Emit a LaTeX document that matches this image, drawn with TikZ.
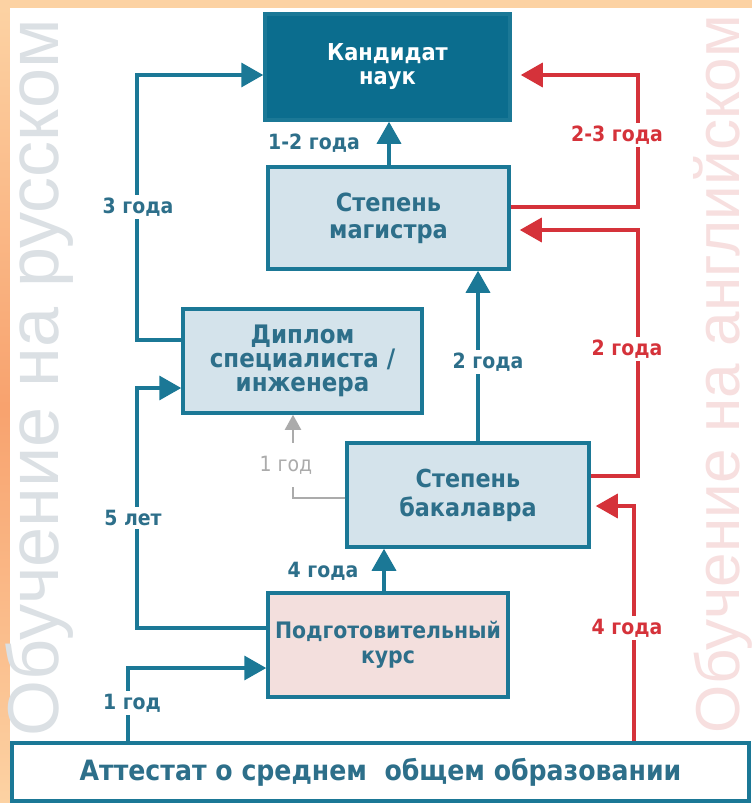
\documentclass[tikz,border=0pt]{standalone}
\usepackage{fontspec}
\setmainfont{DejaVu Sans}[FakeStretch=0.9]
\newfontfamily\wmfont{Liberation Sans}
\usetikzlibrary{arrows.meta}
\definecolor{tealline}{HTML}{1B7896}
\definecolor{kandfill}{HTML}{0B6D8E}
\definecolor{boxfill}{HTML}{D4E3EB}
\definecolor{podgfill}{HTML}{F3DFDD}
\definecolor{redline}{HTML}{D5323A}
\definecolor{boxtext}{HTML}{2D6F8A}
\definecolor{graytext}{HTML}{ABABAB}
\definecolor{peach}{HTML}{FCD2A3}
\definecolor{orng}{HTML}{F8A26E}
\definecolor{wmgray}{HTML}{DBE0E4}
\definecolor{wmpink}{HTML}{F7DFDF}
\begin{document}
\begin{tikzpicture}[x=1pt, y=-1pt, >={Triangle[length=22pt,width=24pt]},
  box/.style={draw=tealline, line width=3.5pt, fill=boxfill, text=boxtext, align=center, inner sep=0pt, font=\bfseries\fontsize{25}{27}\selectfont},
  lab/.style={fill=white, inner sep=3pt, text=boxtext, font=\bfseries\fontsize{21}{22}\selectfont},
  bl/.style={draw=tealline, line width=3.5pt, ->},
  rd/.style={draw=redline, line width=3.5pt, ->, shorten >=9pt},
  wm/.style={rotate=90, anchor=base, inner sep=0pt}]
\useasboundingbox (0,0) rectangle (752,803);
\fill[peach] (0,0) rectangle (752,803);
\shade[top color=peach, bottom color=peach, middle color=orng] (0,8) rectangle (10,803);
\fill[white] (10,8) rectangle (752,803);
\node[wm, text=wmgray, font=\wmfont\fontsize{72}{72}\selectfont] (wmru) at (58,378) {Обучение на русском};
\node[wm, text=wmpink, font=\wmfont\fontsize{62}{62}\selectfont] (wmen) at (739,374) {Обучение на английском};
\node[box, fill=kandfill, text=white, minimum width=245pt, minimum height=106pt, font=\bfseries\fontsize{23.3}{24}\selectfont] (kand) at (387.5,67) {Кандидат\\наук};
\node[box, minimum width=241pt, minimum height=102pt] (mag) at (388.5,218) {Степень\\магистра};
\node[box, minimum width=239pt, minimum height=104pt, font=\bfseries\fontsize{25.5}{24}\selectfont] (dipl) at (302.5,361) {Диплом\\специалиста /\\инженера};
\node[box, minimum width=242pt, minimum height=104pt, font=\bfseries\fontsize{24.8}{29}\selectfont] (bak) at (468,495) {Степень\\бакалавра};
\node[box, fill=podgfill, minimum width=240pt, minimum height=104pt, font=\bfseries\fontsize{22.7}{25}\selectfont] (podg) at (388,645) {Подготовительный\\курс};
\node[box, fill=white, minimum width=737pt, minimum height=58pt, font=\bfseries\fontsize{28}{30}\selectfont] (att) at (380.5,772) {Аттестат о среднем\ \ общем образовании};
\draw[bl] (dipl.west |- 0,340) -| (137,75) -- (kand.west |- 0,75);
\draw[bl] (podg.west |- 0,628) -| (137,388) -- (dipl.west |- 0,388);
\draw[bl] (att.north -| 128,0) |- (podg.west |- 0,668);
\draw[bl] (podg.north -| 384,0) -- (bak.south -| 384,0);
\draw[bl] (bak.north -| 478,0) -- (mag.south -| 478,0);
\draw[bl] (mag.north -| 389,0) -- (kand.south -| 389,0);
\draw[draw=graytext, line width=2pt, -{Triangle[length=15pt,width=16pt]}] (bak.west |- 0,498) -| (dipl.south -| 293,0);
\draw[rd] (mag.east |- 0,207) -| (638,75) -- (kand.east |- 0,75);
\draw[rd] (bak.east |- 0,476) -| (638,230) -- (mag.east |- 0,230);
\draw[rd, shorten >=5pt] (att.north -| 634,0) |- (bak.east |- 0,506);
\node[lab] (l3) at (138,207) {3 года};
\node[lab] (l5) at (133,518) {5 лет};
\node[lab] (l1) at (132,703) {1 год};
\node[lab, fill=none] (l4) at (323,571) {4 года};
\node[lab] (l2) at (488,362) {2 года};
\node[lab, fill=none] (l12) at (314,143) {1-2 года};
\node[lab, text=graytext, font=\fontsize{21}{22}\selectfont, inner ysep=13pt] (lg) at (286,465) {1 год};
\node[lab, text=redline] (r23) at (617,135) {2-3 года};
\node[lab, text=redline] (r2) at (627,349) {2 года};
\node[lab, text=redline] (r4) at (627,628) {4 года};
\end{tikzpicture}
\end{document}
